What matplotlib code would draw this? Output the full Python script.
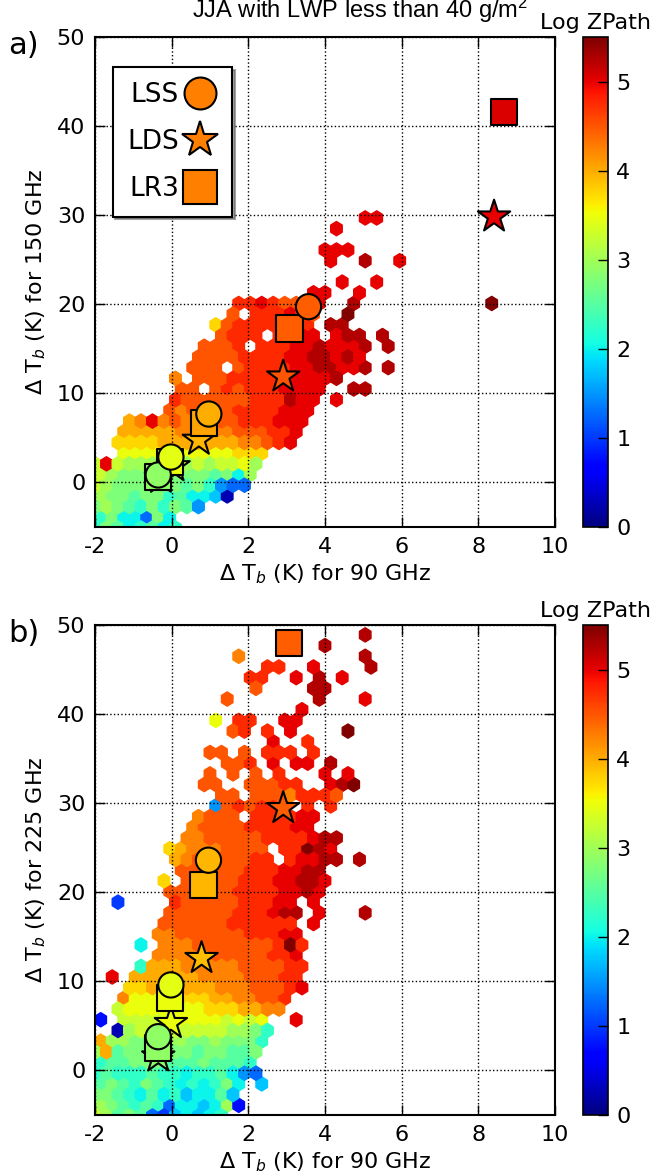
import numpy as np
import matplotlib
matplotlib.use("Agg")
import matplotlib.pyplot as plt
from matplotlib.lines import Line2D

plt.rcParams['font.family'] = ['DejaVu Sans']
plt.rcParams['axes.unicode_minus'] = False
plt.rcParams['mathtext.default'] = 'regular'

# ---------------- data ----------------
# hexagon-cell values, one row of the hex lattice per entry
# (first column index, codes); code letter -> log10 ZPath = 0.25 * position in LEVELS
LEVELS = "abcdefghijklmnopqrstuvw"

rows_150 = [
    (0, "jlkijkij"),
    (1, "jliifli"),
    (0, "lmlkjljlkg"),
    (1, "mllklljkiihb"),
    (0, "nmllllllkljgff"),
    (1, "nmllllllllklim"),
    (0, "nunmmmonmnmnnom"),
    (3, "ooooooooooppp"),
    (2, "ppppqqqqqqqrrstu"),
    (3, "qqqqqrrrrrsssttu"),
    (3, "qrursrrssstttuuu"),
    (7, "srssssttttuuu"),
    (7, "tsssssstttvuu.u"),
    (8, "ss.ststttuuuu..vv"),
    (7, "r.ssstttttuuuuv"),
    (9, "sss.sttttuuvvuuv.v"),
    (9, "ssssttttuuvvuvu"),
    (10, "ssst.tttuuvuuuv.v"),
    (11, "sttt.tuuu.uvv.v"),
    (11, "psttttsst.vv"),
    (12, "s.tttuss..w"),
    (13, "ttutsssu..v...........w"),
    (19, "uu..u"),
    (22, "u..u"),
    (0, ""),
    (21, "u..v..u"),
    (20, "uuu"),
    (0, ""),
    (21, "u"),
    (24, "uu"),
]

rows_225 = [
    (0, "nmklkfehihij"),
    (1, "mlkjkjfiihimd"),
    (0, "llkjikijhiikh"),
    (1, "klkjlkjijijli.h"),
    (0, "jkjjjkjjijjkigf"),
    (1, "jkklllkkklkkkj"),
    (0, "mqkllllllkllkkl"),
    (1, "qmmlllmmllmlllj"),
    (2, "bmnnnnnnnnmmlj"),
    (1, "d.nnnnnoooonono..u"),
    (2, "nooooooopppqqrr"),
    (3, "roooopppqqrrsst"),
    (3, "ppqqqqqqrrrssstu"),
    (2, "u.qqqqqqrrrrssstt"),
    (4, "jqqqrrrrrsssstt"),
    (6, "rrrrrsssssttu"),
    (4, "i.rrrssssssstwt"),
    (6, "rrsssssstttuu"),
    (6, "sssssstttttt.u"),
    (7, "sssssstttuvv.u...v"),
    (2, "e....tssssstttuu.u"),
    (7, "ssssssttttuuvu"),
    (6, "p.ssssstttuuvvu"),
    (8, "sssssstttuuvv"),
    (7, "qrssssstt.tuuvv.v"),
    (7, "pqrrrssss.ttwvu"),
    (8, "rrsssssttttuvv"),
    (9, "rssssttttuu"),
    (9, "rsss.ttttuu"),
    (11, "gststtt.t.t"),
    (11, "ss.sssrttts"),
    (10, "ss..ssstt..uvw"),
    (10, "s.s.s.t...u.u"),
    (12, "sst.u.uu.v"),
    (10, "ss.s.ttt.t"),
    (16, "u..t"),
    (12, "st.t.u....w"),
    (11, "o.tt..uu"),
    (18, "u"),
    (12, "s.......v...u"),
    (14, "s....vv"),
    (14, "tt..u.v.u"),
    (15, "tt..u....v"),
    (13, "r..........v"),
    (20, "v"),
    (24, "v"),
]

# reference profiles (x = dTb 90 GHz, y = dTb 150/225 GHz, c = log ZPath)
lss_150_x = [-0.35, -0.02, 0.97, 3.57]
lss_150_y = [0.84, 2.85, 7.68, 19.73]
lss_150_c = [2.9, 3.45, 3.98, 4.45]
lds_150_x = [-0.28, 0.05, 0.71, 2.91, 8.41]
lds_150_y = [0.5, 1.8, 4.77, 11.87, 29.83]
lds_150_c = [2.9, 3.45, 3.95, 4.5, 5.0]
lr3_150_x = [-0.35, -0.04, 0.85, 3.07, 8.67]
lr3_150_y = [0.58, 2.33, 6.64, 17.3, 41.6]
lr3_150_c = [2.9, 3.5, 4.05, 4.45, 5.05]

lss_225_x = [-0.35, -0.02, 0.96]
lss_225_y = [3.79, 9.6, 23.6]
lss_225_c = [2.9, 3.45, 3.95]
lds_225_x = [-0.35, -0.02, 0.78, 2.91]
lds_225_y = [1.55, 5.3, 12.6, 29.43]
lds_225_c = [2.9, 3.5, 3.9, 4.45]
lr3_225_x = [-0.35, -0.04, 0.83, 3.06]
lr3_225_y = [2.5, 8.1, 20.8, 47.95]
lr3_225_c = [2.9, 3.5, 3.95, 4.45]

legend_labels = ["LSS", "LDS", "LR3"]
x_ticks = [-2, 0, 2, 4, 6, 8, 10]
y_ticks = [0, 10, 20, 30, 40, 50]
cbar_ticks = [0, 1, 2, 3, 4, 5]

# ---------------- hex lattice ----------------
X0, SX, NX = -2.151, 0.3, 40
Y0, SY, NY = -6.31, 2.4, 24


def cells(rows):
    xs, ys, cs = [], [], []
    for j, (start, codes) in enumerate(rows, start=1):
        for k, ch in enumerate(codes):
            if ch == '.':
                continue
            i = start + k
            xs.append(X0 + (i + 0.5 * (j % 2)) * SX)
            ys.append(Y0 + j * SY / 2.0)
            cs.append(0.25 * LEVELS.index(ch))
    return np.array(xs), np.array(ys), np.array(cs)


W, H = 655.0, 1175.0
fig = plt.figure(figsize=(6.55, 11.75), dpi=100)
fig.patch.set_facecolor('white')

FS = 16
panels = [
    (527, rows_150, "150", "a)",
     (lss_150_x, lss_150_y, lss_150_c), (lds_150_x, lds_150_y, lds_150_c), (lr3_150_x, lr3_150_y, lr3_150_c)),
    (1115, rows_225, "225", "b)",
     (lss_225_x, lss_225_y, lss_225_c), (lds_225_x, lds_225_y, lds_225_c), (lr3_225_x, lr3_225_y, lr3_225_c)),
]

for k, (bot, rows, freq, tag, lss, lds, lr3) in enumerate(panels):
    ax = fig.add_axes([95 / W, 1 - bot / H, 460 / W, 490 / H])
    cax = fig.add_axes([583 / W, 1 - bot / H, 25 / W, 490 / H])
    x, y, c = cells(rows)
    hb = ax.hexbin(x, y, C=c, gridsize=(NX, NY),
                   extent=(X0, X0 + NX * SX, Y0, Y0 + NY * SY),
                   cmap='jet', vmin=0, vmax=5.5, reduce_C_function=np.mean,
                   linewidths=1.0, edgecolors='face', zorder=1)
    kw = dict(cmap='jet', vmin=0, vmax=5.5, edgecolors='k', linewidths=1.5)
    ax.scatter(lds[0], lds[1], c=lds[2], marker='*', s=600, zorder=4, **kw)
    ax.scatter(lr3[0], lr3[1], c=lr3[2], marker='s', s=360, zorder=5, **kw)
    ax.scatter(lss[0], lss[1], c=lss[2], marker='o', s=330, zorder=6, **kw)

    ax.set_xlim(-2, 10)
    ax.set_ylim(-5, 50)
    ax.set_xticks(x_ticks)
    ax.set_yticks(y_ticks)
    ax.set_axisbelow(False)
    ax.grid(True, linestyle=':', color='k', linewidth=1.0)
    ax.tick_params(direction='in', top=True, right=True, length=7, width=1,
                   labelsize=FS, pad=7)
    for sp in ax.spines.values():
        sp.set_linewidth(1.5)
    ax.set_xlabel(r'$\Delta$ T$_{\it b}$ (K) for 90 GHz', fontsize=FS, labelpad=4)
    ax.set_ylabel(r'$\Delta$ T$_{\it b}$ (K) for ' + freq + ' GHz', fontsize=FS, labelpad=6)

    cb = fig.colorbar(hb, cax=cax, ticks=cbar_ticks)
    cb.outline.set_linewidth(1.2)
    cax.tick_params(direction='in', length=7, width=1, labelsize=FS, pad=6)
    cax.set_title('Log ZPath', fontsize=FS, pad=6)

    fig.text(8 / W, 1 - (bot - 482) / H, tag, fontsize=22, va='center', ha='left')

    if k == 0:
        handles = [
            Line2D([], [], marker='o', linestyle='none', markersize=23,
                   markerfacecolor='#ff8000', markeredgecolor='k', markeredgewidth=1.5),
            Line2D([], [], marker='*', linestyle='none', markersize=27,
                   markerfacecolor='#ff8000', markeredgecolor='k', markeredgewidth=1.5),
            Line2D([], [], marker='s', linestyle='none', markersize=24,
                   markerfacecolor='#ff8000', markeredgecolor='k', markeredgewidth=1.5),
        ]
        leg = ax.legend(handles, legend_labels, loc='upper left',
                        bbox_to_anchor=(0.0385, 0.938), borderaxespad=0,
                        markerfirst=False, fontsize=19, fancybox=False, shadow=True,
                        handlelength=1.3, handletextpad=0.15, labelspacing=0.8,
                        borderpad=0.55, framealpha=1)
        leg.get_frame().set_edgecolor('k')
        leg.get_frame().set_linewidth(1.5)

fig.text(360 / W, 1 - 18 / H, 'JJA with LWP less than 40 g/m$^2$',
         ha='center', va='baseline', fontsize=17,
         family=['Liberation Sans', 'DejaVu Sans'])

fig.savefig('out.png', dpi=100)
